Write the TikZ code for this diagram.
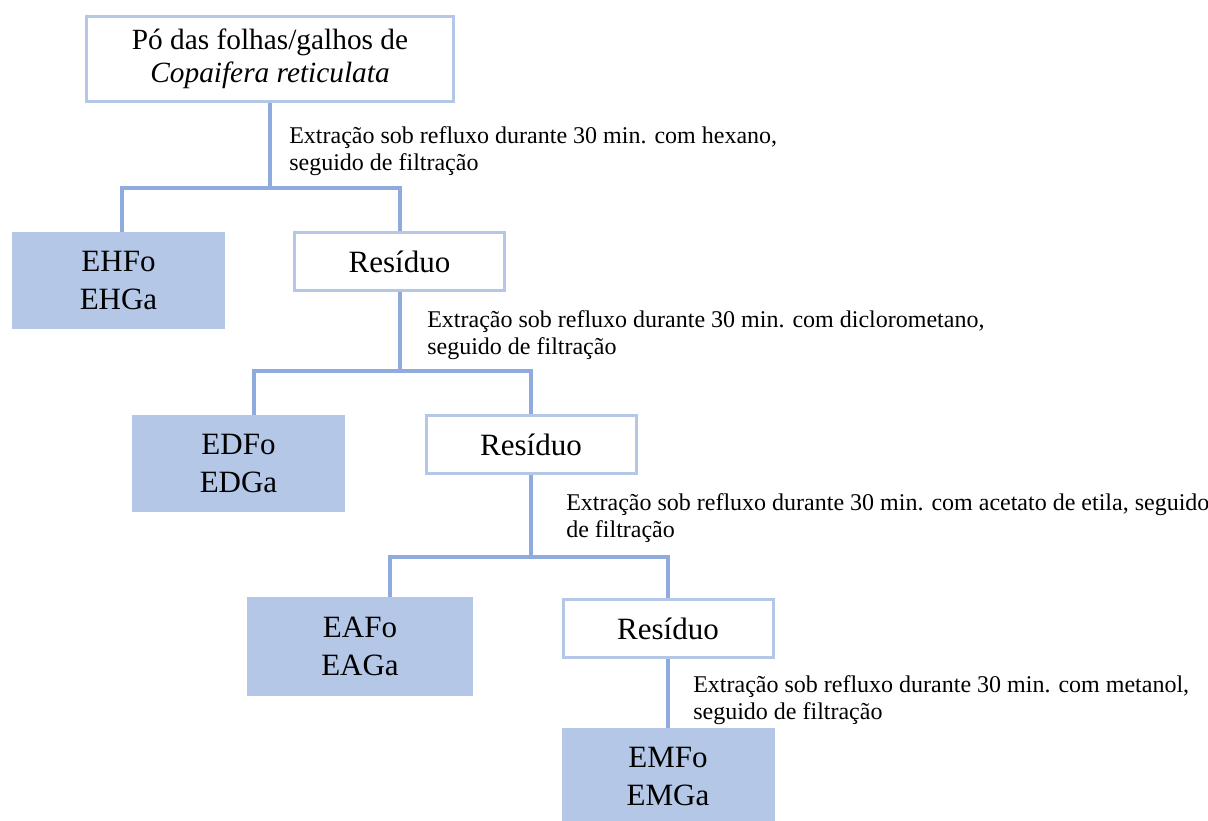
\documentclass[tikz,border=0pt]{standalone}
\usepackage{fontspec}
\setmainfont{Liberation Serif}

\definecolor{boxblue}{HTML}{B4C7E7}
\definecolor{lineblue}{HTML}{8FAADC}

\tikzset{
  resbox/.style={draw=boxblue, line width=2.25pt, fill=white, inner sep=0pt, align=center,
    minimum width=157.5pt, minimum height=43.5pt, font=\fontsize{23.25}{28.5}\selectfont},
  extbox/.style={resbox, fill=boxblue, minimum height=70.5pt},
  link/.style={draw=lineblue, line width=3pt},
  note/.style={anchor=west, inner sep=0pt, align=left, font=\fontsize{18}{20.25}\selectfont}
}

\begin{document}
\begin{tikzpicture}[x=0.75pt, y=-0.75pt]

  \useasboundingbox (0,0) rectangle (1208,821);

  \node[resbox, minimum width=275.25pt, minimum height=63.75pt, font=\fontsize{22}{24.75}\selectfont] (src) at (270,59) {Pó das folhas/galhos de\\\textit{Copaifera reticulata}};

  \node[extbox] (eh) at (118.5,280.5) {EHFo\\EHGa};
  \node[resbox] (res1) at (399.5,261.5) {Resíduo};

  \node[extbox] (ed) at (238.5,463) {EDFo\\EDGa};
  \node[resbox] (res2) at (531,444.5) {Resíduo};

  \node[extbox, minimum width=167.25pt, minimum height=72pt] (ea) at (360,646.5) {EAFo\\EAGa};
  \node[resbox] (res3) at (668,628.5) {Resíduo};

  \node[extbox] (em) at (668,776.5) {EMFo\\EMGa};

  % connectors
  \coordinate (j1) at (270,188);
  \coordinate (k1) at (122,188);
  \draw[link] (src.south) -- (j1);
  \draw[link] (k1 |- eh.north) -- (k1) -- (j1) -| (res1.north);

  \coordinate (j2) at (399.5,371);
  \coordinate (k2) at (254,371);
  \draw[link] (res1.south) -- (j2);
  \draw[link] (k2 |- ed.north) -- (k2) -- (j2) -| (res2.north);

  \coordinate (j3) at (531,557);
  \coordinate (k3) at (390,557);
  \draw[link] (res2.south) -- (j3);
  \draw[link] (k3 |- ea.north) -- (k3) -- (j3) -| (res3.north);

  \draw[link] (res3.south) -- (em.north);

  % step labels
  \node[note] (hex) at (289,151.5) {Extração sob refluxo durante 30 min. com hexano,\\seguido de filtração};
  \node[note] (dcm) at (427,335) {Extração sob refluxo durante 30 min. com diclorometano,\\seguido de filtração};
  \node[note] (acet) at (566,518) {Extração sob refluxo durante 30 min. com acetato de etila, seguido\\de filtração};
  \node[note] (met) at (693,700.5) {Extração sob refluxo durante 30 min. com metanol,\\seguido de filtração};

\end{tikzpicture}
\end{document}
